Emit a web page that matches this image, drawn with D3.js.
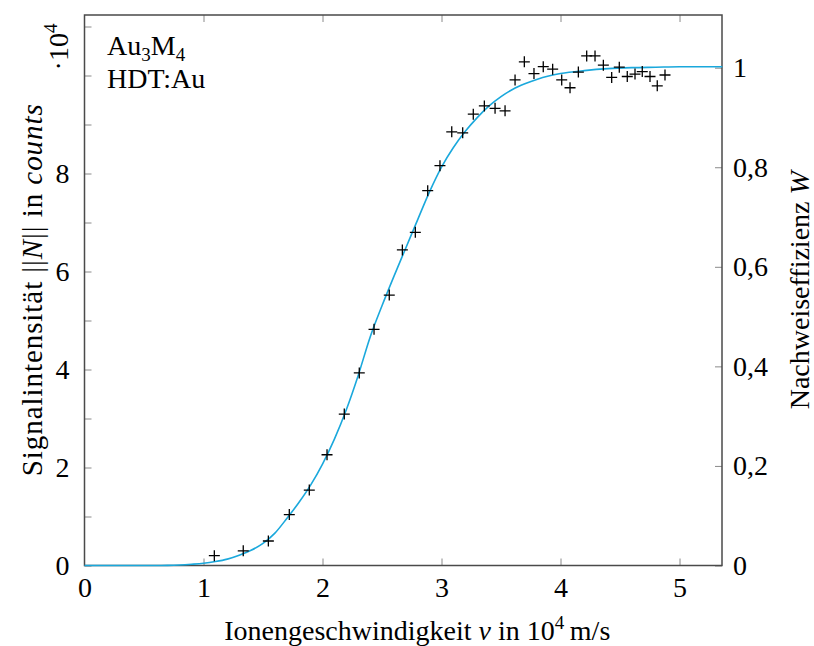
<!DOCTYPE html>
<html>
<head>
<meta charset="utf-8">
<script src="https://cdn.jsdelivr.net/npm/d3@7"></script>
<style>
  body { margin: 0; background: #fff; }
  svg text { font-family: "Liberation Serif", "Times New Roman", Times, "DejaVu Serif", "Noto Serif", serif; fill: #000; }
</style>
</head>
<body>
<svg id="chart" width="814" height="646"></svg>
<script>
// measured points: velocity in 10^4 m/s, signal in 10^4 counts
const velocity = [1.091, 1.334, 1.545, 1.721, 1.889, 2.038, 2.183, 2.309, 2.433, 2.561,
  2.671, 2.780, 2.884, 2.987, 3.086, 3.178, 3.267, 3.360, 3.450, 3.534,
  3.618, 3.696, 3.777, 3.855, 3.934, 4.010, 4.080, 4.150, 4.220, 4.290,
  4.360, 4.430, 4.494, 4.561, 4.626, 4.687, 4.752, 4.813, 4.878];
const signal = [0.20, 0.30, 0.50, 1.04, 1.54, 2.26, 3.09, 3.93, 4.82, 5.52,
  6.44, 6.80, 7.65, 8.16, 8.85, 8.83, 9.21, 9.38, 9.33, 9.28,
  9.91, 10.28, 10.04, 10.18, 10.13, 9.91, 9.75, 10.07, 10.40, 10.40,
  10.21, 9.96, 10.17, 9.98, 10.03, 10.08, 9.98, 9.79, 10.01];

// fitted curve
const fitVelocity = [0, 0.5, 0.7, 0.8, 0.9, 1.0, 1.1, 1.2, 1.3, 1.4, 1.5, 1.6, 1.7, 1.8, 1.9,
  2.0, 2.1, 2.2, 2.3, 2.4, 2.5, 2.6, 2.7, 2.8, 2.9, 3.0, 3.1, 3.2, 3.3, 3.4,
  3.5, 3.6, 3.7, 3.8, 3.9, 4.0, 4.2, 4.4, 4.6, 4.8, 5.0, 5.36];
const fitSignal = [0, 0, 0.003, 0.01, 0.025, 0.045, 0.08, 0.13, 0.21, 0.31, 0.45, 0.66, 0.96, 1.28, 1.64,
  2.07, 2.58, 3.18, 3.88, 4.66, 5.30, 5.90, 6.48, 7.06, 7.63, 8.13, 8.53, 8.86, 9.14, 9.38,
  9.57, 9.72, 9.83, 9.92, 9.99, 10.04, 10.10, 10.14, 10.16, 10.17, 10.18, 10.18];

// signal (10^4 counts) that corresponds to W = 1
const saturation = 10.16;

const xTicks = [1, 2, 3, 4, 5];
const yTicks = d3.range(0, 12);
const yLabels = [0, 2, 4, 6, 8];
const wTicks = [0, 0.2, 0.4, 0.6, 0.8, 1];

const mLeft = 84.5, mRight = 722, mTop = 15, mBottom = 565.5;
const svg = d3.select("#chart");

const x = d3.scaleLinear().domain([0, 5.357]).range([mLeft, mRight]);
const y = d3.scaleLinear().domain([0, 11.235]).range([mBottom, mTop]);
const yW = d3.scaleLinear().domain([0, 11.235 / saturation]).range([mBottom, mTop]);

const fs = 28;
const serif = "'Liberation Serif', 'Times New Roman', Times, 'DejaVu Serif', 'Noto Serif', serif";

function styleAxis(g) {
  g.attr("font-family", serif);
  g.select(".domain").remove();
  g.selectAll(".tick line").attr("stroke", "#8a8a8a").attr("stroke-width", 1);
  g.selectAll("text").attr("font-size", fs).attr("font-family", serif);
}

svg.append("g").attr("transform", `translate(0,${mBottom})`)
  .call(d3.axisBottom(x).tickValues([0].concat(xTicks)).tickSize(-7).tickPadding(12)
    .tickFormat(d3.format("d")))
  .call(styleAxis)
  .call(g => g.selectAll(".tick").filter(d => d === 0).select("line").remove());

svg.append("g").attr("transform", `translate(0,${mTop})`)
  .call(d3.axisTop(x).tickValues(xTicks).tickSize(-7).tickFormat(""))
  .call(styleAxis);

svg.append("g").attr("transform", `translate(${mLeft},0)`)
  .call(d3.axisLeft(y).tickValues(yTicks).tickSize(-7).tickPadding(15)
    .tickFormat(d => yLabels.includes(d) ? d : ""))
  .call(styleAxis);

svg.append("g").attr("transform", `translate(${mRight},0)`)
  .call(d3.axisRight(yW).tickValues(wTicks).tickSize(-7).tickPadding(11)
    .tickFormat(d => String(d).replace(".", ",")))
  .call(styleAxis);

// frame
svg.append("rect")
  .attr("x", mLeft).attr("y", mTop)
  .attr("width", mRight - mLeft).attr("height", mBottom - mTop)
  .attr("fill", "none").attr("stroke", "#4a4a4a").attr("stroke-width", 1.5);

// fit curve
const fit = fitVelocity.map((v, i) => [v, fitSignal[i]]);
svg.append("path")
  .datum(fit)
  .attr("fill", "none")
  .attr("stroke", "#1aa8dc")
  .attr("stroke-width", 1.6)
  .attr("d", d3.line().x(d => x(d[0])).y(d => y(d[1])).curve(d3.curveMonotoneX));

// data crosses
const pts = velocity.map((v, i) => [v, signal[i]]);
const s = 5.5;
svg.append("g").selectAll("path")
  .data(pts)
  .join("path")
  .attr("d", d => {
    const cx = x(d[0]), cy = y(d[1]);
    return `M${cx - s},${cy}H${cx + s}M${cx},${cy - s}V${cy + s}`;
  })
  .attr("stroke", "#000")
  .attr("stroke-width", 1.3);

// sample label
const lab1 = svg.append("text").attr("x", 107).attr("y", 55).attr("font-size", fs);
lab1.append("tspan").text("Au");
lab1.append("tspan").attr("font-size", 19).attr("dy", 6).text("3");
lab1.append("tspan").attr("dy", -6).text("M");
lab1.append("tspan").attr("font-size", 19).attr("dy", 6).text("4");
svg.append("text").attr("x", 107).attr("y", 88).attr("font-size", fs).text("HDT:Au");

// x axis title
const xt = svg.append("text")
  .attr("x", (mLeft + mRight) / 2 + 14).attr("y", 640)
  .attr("text-anchor", "middle").attr("font-size", fs);
xt.append("tspan").text("Ionengeschwindigkeit ");
xt.append("tspan").attr("font-style", "italic").text("v");
xt.append("tspan").text(" in 10");
xt.append("tspan").attr("font-size", 19).attr("dy", -11).text("4");
xt.append("tspan").attr("dy", 11).text("\u2009m/s");

// left y title
const yt = svg.append("text")
  .attr("transform", `translate(42,${(mTop + mBottom) / 2}) rotate(-90)`)
  .attr("text-anchor", "middle").attr("font-size", 29)
  .attr("textLength", 372).attr("lengthAdjust", "spacing");
yt.append("tspan").text("Signalintensität ||");
yt.append("tspan").attr("font-style", "italic").text("N");
yt.append("tspan").text("|| in ");
yt.append("tspan").attr("font-style", "italic").text("counts");

// scale marker
const sc = svg.append("text")
  .attr("transform", "translate(68,47) rotate(-90)")
  .attr("text-anchor", "middle").attr("font-size", fs);
sc.append("tspan").text("·10");
sc.append("tspan").attr("font-size", 19).attr("dy", -11).text("4");

// right y title
const wt = svg.append("text")
  .attr("transform", `translate(809,${(mTop + mBottom) / 2}) rotate(-90)`)
  .attr("text-anchor", "middle").attr("font-size", fs);
wt.append("tspan").text("Nachweiseffizienz ");
wt.append("tspan").attr("font-style", "italic").text("W");
</script>
</body>
</html>
